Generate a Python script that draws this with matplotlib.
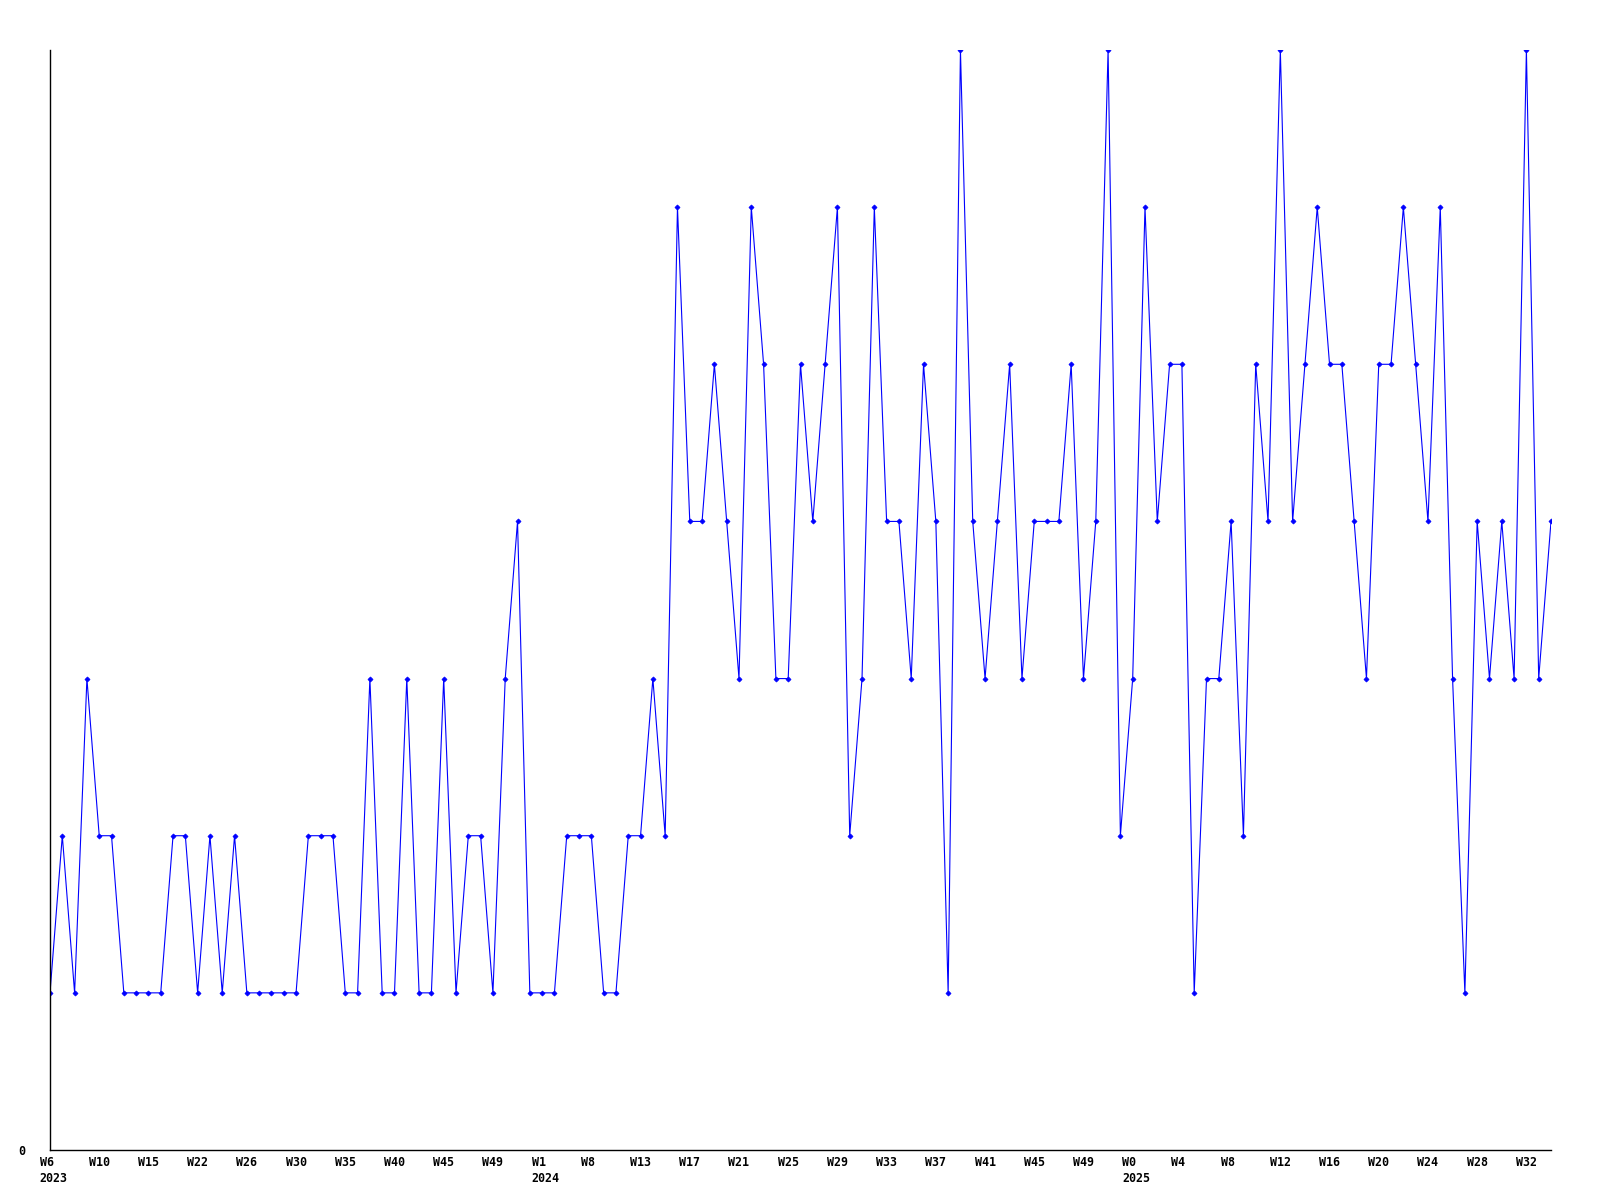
import matplotlib
matplotlib.use('Agg')
import matplotlib.pyplot as plt
from matplotlib.transforms import ScaledTranslation

# weekly counts, W6 2023 .. W34 2025 (one value per week)
values = [
    1, 2, 1, 3, 2, 2, 1, 1, 1, 1, 2, 2, 1, 2, 1, 2, 1, 1, 1, 1,
    1, 2, 2, 2, 1, 1, 3, 1, 1, 3, 1, 1, 3, 1, 2, 2, 1, 3, 4, 1,
    1, 1, 2, 2, 2, 1, 1, 2, 2, 3, 2, 6, 4, 4, 5, 4, 3, 6, 5, 3,
    3, 5, 4, 5, 6, 2, 3, 6, 4, 4, 3, 5, 4, 1, 7, 4, 3, 4, 5, 3,
    4, 4, 4, 5, 3, 4, 7, 2, 3, 6, 4, 5, 5, 1, 3, 3, 4, 2, 5, 4,
    7, 4, 5, 6, 5, 5, 4, 3, 5, 5, 6, 5, 4, 6, 3, 1, 4, 3, 4, 3,
    7, 3, 4,
]

# labels shown on every 4th week
tick_labels = [
    'W6\n2023', 'W10', 'W15', 'W22', 'W26', 'W30', 'W35', 'W40', 'W45', 'W49',
    'W1\n2024', 'W8', 'W13', 'W17', 'W21', 'W25', 'W29', 'W33', 'W37', 'W41',
    'W45', 'W49', 'W0\n2025', 'W4', 'W8', 'W12', 'W16', 'W20', 'W24', 'W28',
    'W32',
]
tick_step = 4

fig = plt.figure(figsize=(16, 12), dpi=100)
ax = fig.add_axes([50 / 1600, 50 / 1200, 1501 / 1600, 1100 / 1200])

x = list(range(len(values)))
ax.plot(x, values, color='#0000ff', linewidth=0.8,
        marker='D', markersize=2.6, markeredgewidth=0.5)

ax.set_xlim(0, len(values) - 1)
ax.set_ylim(0, 7)

ax.spines['top'].set_visible(False)
ax.spines['right'].set_visible(False)
ax.spines['left'].set_linewidth(1.0)
ax.spines['bottom'].set_linewidth(1.0)

ax.set_yticks([0])
ax.set_yticklabels(['0'])
ax.set_xticks(list(range(0, len(values), tick_step))[:len(tick_labels)])
ax.set_xticklabels(tick_labels, linespacing=1.3, multialignment='left')

ax.tick_params(axis='both', length=0, labelsize=8.4)
ax.tick_params(axis='y', pad=18)
ax.tick_params(axis='x', pad=4)
for lab in ax.get_xticklabels() + ax.get_yticklabels():
    lab.set_fontfamily('DejaVu Sans Mono')
    lab.set_fontweight('bold')

# labels start a little left of their tick, as in the original renderer
shift = ScaledTranslation(-10.5 / 100, 0, fig.dpi_scale_trans)
for lab in ax.get_xticklabels():
    lab.set_horizontalalignment('left')
    lab.set_transform(lab.get_transform() + shift)

fig.savefig('out.png', dpi=100, facecolor='white')
